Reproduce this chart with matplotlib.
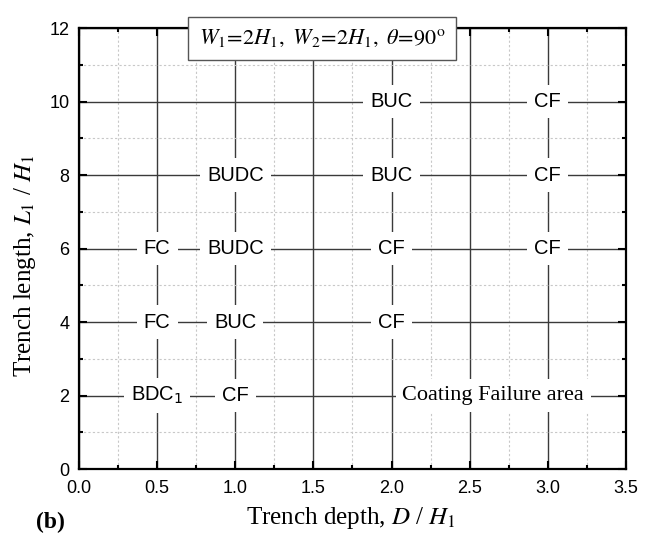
import matplotlib
matplotlib.use('Agg')
import matplotlib.pyplot as plt
from matplotlib.ticker import MultipleLocator, FormatStrFormatter

plt.rcParams['mathtext.fontset'] = 'stix'

# regime labels on the (D/H1, L1/H1) grid
depth = [0.5, 0.5, 0.5, 1.0, 1.0, 1.0, 1.0, 2.0, 2.0, 2.0, 2.0, 3.0, 3.0, 3.0]
length = [6, 4, 2, 8, 6, 4, 2, 10, 8, 6, 4, 10, 8, 6]
regime = ['FC', 'FC', r'BDC$_1$', 'BUDC', 'BUDC', 'BUC', 'CF',
          'BUC', 'BUC', 'CF', 'CF', 'CF', 'CF', 'CF']

area_text = 'Coating Failure area'
area_pos = (2.65, 2)
title_text = r'$W_1\!=\!2H_1,\ W_2\!=\!2H_1,\ \theta\!=\!90^{\rm o}$'

fig = plt.figure(figsize=(6.47, 5.37), dpi=100)
ax = fig.add_axes([0.1221, 0.1266, 0.8454, 0.8212])

ax.set_xlim(0, 3.5)
ax.set_ylim(0, 12)
ax.xaxis.set_major_locator(MultipleLocator(0.5))
ax.xaxis.set_minor_locator(MultipleLocator(0.25))
ax.yaxis.set_major_locator(MultipleLocator(2))
ax.yaxis.set_minor_locator(MultipleLocator(1))
ax.xaxis.set_major_formatter(FormatStrFormatter('%.1f'))

ax.grid(which='major', color='#3a3a3a', lw=1.0, ls='-')
ax.grid(which='minor', color='#c8c8c8', lw=0.8, ls=(0, (2, 2)))
ax.set_axisbelow(True)

ax.tick_params(which='both', direction='in', top=True, right=True,
               labelsize=13, width=1.5)
ax.tick_params(which='major', length=6)
ax.tick_params(which='minor', length=3)
ax.tick_params(axis='x', pad=8)
ax.tick_params(axis='y', pad=7)
for lab in ax.get_xticklabels() + ax.get_yticklabels():
    lab.set_family('Liberation Sans')
for s in ax.spines.values():
    s.set_linewidth(1.6)

for x, y, t in zip(depth, length, regime):
    ax.text(x, y, t, ha='center', va='center', fontsize=14.5,
            family='Liberation Sans', math_fontfamily='dejavusans', zorder=4,
            bbox=dict(boxstyle='square,pad=0.35', fc='white', ec='none'))

ax.text(area_pos[0], area_pos[1], area_text, ha='center', va='center',
        fontsize=16, family='Liberation Serif', zorder=4,
        bbox=dict(boxstyle='square,pad=0.3', fc='white', ec='none'))

ax.text(0.444, 0.977, title_text, transform=ax.transAxes, ha='center',
        va='center', fontsize=16, zorder=5, clip_on=False,
        bbox=dict(boxstyle='square,pad=0.5', fc='white', ec='#555555', lw=1))

ax.set_xlabel(r'Trench depth, $D$ / $H_1$', family='Liberation Serif',
              fontsize=18)
ax.set_ylabel(r'Trench length, $L_1$ / $H_1$', family='Liberation Serif',
              fontsize=18)
ax.xaxis.set_label_coords(0.497, -0.082)
ax.yaxis.set_label_coords(-0.075, 0.46)
fig.text(0.078, 0.008, '(b)', family='Liberation Serif', fontweight='bold',
         fontsize=17, ha='center', va='bottom')

fig.savefig('out.png', dpi=100, facecolor='white')
